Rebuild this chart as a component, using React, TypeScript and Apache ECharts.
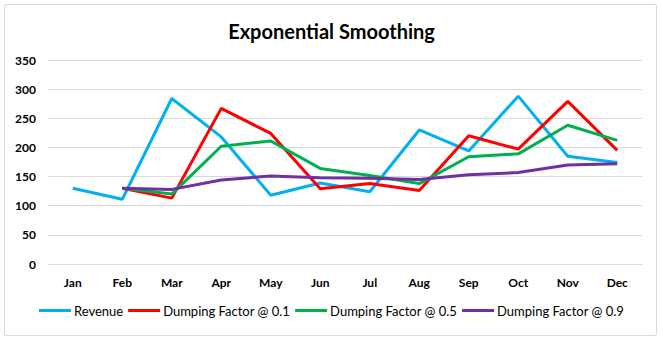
import React, { useEffect, useRef } from "react";
import * as echarts from "echarts";

const months = ["Jan", "Feb", "Mar", "Apr", "May", "Jun", "Jul", "Aug", "Sep", "Oct", "Nov", "Dec"];
const revenue = [130, 111, 284, 218, 118, 139, 124, 230, 194, 288, 185, 174];
const damp01 = [null, 130, 113, 267, 224, 129, 138, 126, 220, 197, 279, 195];
const damp05 = [null, 130, 120, 202, 211, 164, 152, 138, 184, 189, 238, 212];
const damp09 = [null, 130, 128, 144, 151, 148, 147, 145, 153, 157, 170, 172];
const yTicks = [0, 50, 100, 150, 200, 250, 300, 350];

const FONT = "Lato, 'Open Sans', sans-serif";

export default function App() {
  const ref = useRef<HTMLDivElement>(null);
  useEffect(() => {
    if (!ref.current) return;
    const chart = echarts.init(ref.current, null, { renderer: "svg" });
    const mk = (name: string, data: (number | null)[], color: string) => ({
      name,
      type: "line",
      data,
      showSymbol: false,
      symbol: "none",
      lineStyle: { color, width: 3 },
      itemStyle: { color },
      connectNulls: false,
    });
    chart.setOption({
      animation: false,
      backgroundColor: "#fff",
      title: {
        text: "Exponential Smoothing",
        left: "center",
        top: 16,
        textStyle: { fontFamily: FONT, fontSize: 20, fontWeight: "bold", color: "#000" },
      },
      legend: {
        bottom: 19,
        left: "center",
        icon: "rect",
        itemWidth: 32,
        itemHeight: 3,
        itemGap: 5,
        textStyle: { fontFamily: FONT, fontSize: 13, color: "#000", padding: [0, 0, 0, -2] },
        data: ["Revenue", "Dumping Factor @ 0.1", "Dumping Factor @ 0.5", "Dumping Factor @ 0.9"],
      },
      grid: { left: 48, right: 21, top: 60, bottom: 77, containLabel: false },
      xAxis: {
        type: "category",
        data: months,
        boundaryGap: true,
        axisLine: { lineStyle: { color: "#D9D9D9" } },
        axisTick: { show: false },
        axisLabel: { fontFamily: FONT, fontSize: 12, fontWeight: "bold", color: "#000", margin: 12 },
      },
      yAxis: {
        type: "value",
        min: yTicks[0],
        max: yTicks[yTicks.length - 1],
        interval: 50,
        axisLine: { show: false },
        axisTick: { show: false },
        splitLine: { lineStyle: { color: "#D9D9D9" } },
        axisLabel: { fontFamily: FONT, fontSize: 12, fontWeight: "bold", color: "#000", margin: 12 },
      },
      series: [
        mk("Revenue", revenue, "#00B0F0"),
        mk("Dumping Factor @ 0.1", damp01, "#FF0000"),
        mk("Dumping Factor @ 0.5", damp05, "#00B050"),
        mk("Dumping Factor @ 0.9", damp09, "#7030A0"),
      ],
    });
    return () => chart.dispose();
  }, []);
  return (
    <div style={{ position: "fixed", left: 0, top: 0, width: 663, height: 341, background: "#fff" }}>
      <div
        style={{
          position: "absolute",
          left: 4,
          top: 4,
          width: 653,
          height: 332,
          border: "1px solid #D9D9D9",
          borderRadius: 2,
          boxSizing: "border-box",
          pointerEvents: "none",
          zIndex: 2,
        }}
      />
      <div ref={ref} style={{ position: "absolute", left: 0, top: 0, width: 663, height: 341 }} />
    </div>
  );
}
